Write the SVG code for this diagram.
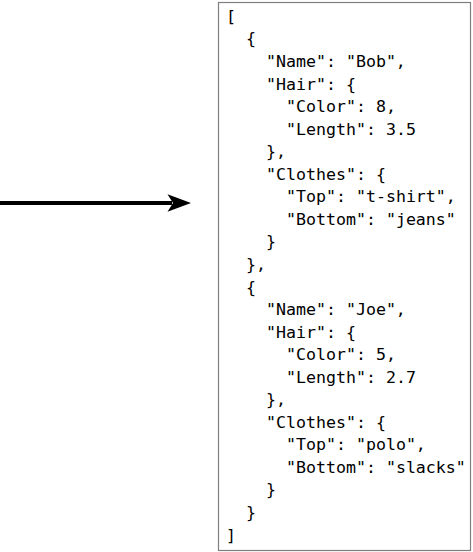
<svg xmlns="http://www.w3.org/2000/svg" width="473" height="552" viewBox="0 0 473 552">
  <style>
    .code { font-family: "DejaVu Sans Mono", "Liberation Mono", monospace; font-size: 16.6px; fill: #000; }
    .box { fill: #fff; stroke: #7f7f7f; stroke-width: 1.2; }
  </style>
  <rect width="473" height="552" fill="#fff"/>
  <g id="connectors">
    <line x1="0" y1="203" x2="172" y2="203" stroke="#000" stroke-width="4.2"/>
    <path d="M191,203 L167.5,194.3 L173,203 L167.5,211.7 Z" fill="#000"/>
  </g>
  <g id="json-box">
    <rect class="box" x="218.5" y="2.5" width="252" height="548"/>
    <text class="code" x="226" y="21.9">[</text>
    <text class="code" x="246" y="44.45">{</text>
    <text class="code" x="266" y="67">"Name": "Bob",</text>
    <text class="code" x="266" y="89.55">"Hair": {</text>
    <text class="code" x="286" y="112.1">"Color": 8,</text>
    <text class="code" x="286" y="134.65">"Length": 3.5</text>
    <text class="code" x="266" y="157.2">},</text>
    <text class="code" x="266" y="179.75">"Clothes": {</text>
    <text class="code" x="286" y="202.3">"Top": "t-shirt",</text>
    <text class="code" x="286" y="224.85">"Bottom": "jeans"</text>
    <text class="code" x="266" y="247.4">}</text>
    <text class="code" x="246" y="269.95">},</text>
    <text class="code" x="246" y="292.5">{</text>
    <text class="code" x="266" y="315.05">"Name": "Joe",</text>
    <text class="code" x="266" y="337.6">"Hair": {</text>
    <text class="code" x="286" y="360.15">"Color": 5,</text>
    <text class="code" x="286" y="382.7">"Length": 2.7</text>
    <text class="code" x="266" y="405.25">},</text>
    <text class="code" x="266" y="427.8">"Clothes": {</text>
    <text class="code" x="286" y="450.35">"Top": "polo",</text>
    <text class="code" x="286" y="472.9">"Bottom": "slacks"</text>
    <text class="code" x="266" y="495.45">}</text>
    <text class="code" x="246" y="518">}</text>
    <text class="code" x="226" y="540.55">]</text>
  </g>
</svg>
